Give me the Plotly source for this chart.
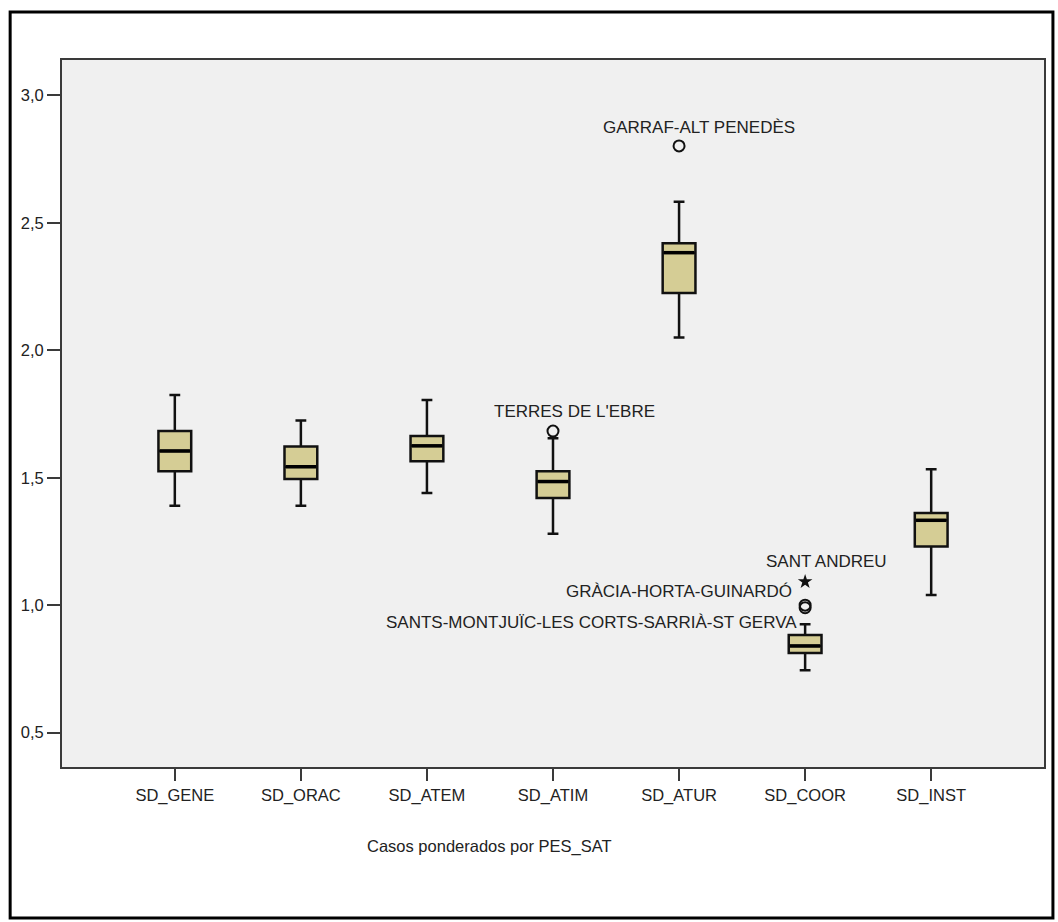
import plotly.graph_objects as go

# Box-plot statistics per variable
categories = ["SD_GENE", "SD_ORAC", "SD_ATEM", "SD_ATIM", "SD_ATUR", "SD_COOR", "SD_INST"]
lower_whisker = [1.39, 1.39, 1.44, 1.28, 2.05, 0.745, 1.04]
q1_values = [1.525, 1.495, 1.565, 1.42, 2.225, 0.812, 1.23]
median_values = [1.605, 1.543, 1.625, 1.485, 2.383, 0.840, 1.333]
q3_values = [1.683, 1.623, 1.664, 1.525, 2.42, 0.883, 1.362]
upper_whisker = [1.825, 1.725, 1.805, 1.655, 2.583, 0.925, 1.533]

# Outliers (open circles) and extreme values (stars)
outlier_x = ["SD_ATIM", "SD_ATUR", "SD_COOR", "SD_COOR"]
outlier_y = [1.683, 2.802, 0.99, 1.0]
extreme_x = ["SD_COOR"]
extreme_y = [1.092]

# Case labels: (category, value, text, anchor, x shift, y shift)
case_labels = [
    ("SD_ATUR", 2.802, "GARRAF-ALT PENEDÈS", "center", 20, 18),
    ("SD_ATIM", 1.683, "TERRES DE L'EBRE", "center", 21, 20),
    ("SD_COOR", 1.092, "SANT ANDREU", "center", 21, 20),
    ("SD_COOR", 1.092, "GRÀCIA-HORTA-GUINARDÓ", "right", -11, -10),
    ("SD_COOR", 0.99, "SANTS-MONTJUÏC-LES CORTS-SARRIÀ-ST GERVA", "right", -6, -15),
]

y_ticks = [0.5, 1.0, 1.5, 2.0, 2.5, 3.0]

FONT = "Liberation Sans, Arial, sans-serif"
TEXT = "#222222"
BOX_WIDTH = 0.26

fig = go.Figure()

fig.add_trace(go.Box(
    x=categories,
    q1=q1_values,
    median=median_values,
    q3=q3_values,
    lowerfence=lower_whisker,
    upperfence=upper_whisker,
    width=BOX_WIDTH,
    whiskerwidth=0.33,
    fillcolor="#D5CD95",
    line=dict(color="#111111", width=2.5),
    boxpoints=False,
    showlegend=False,
    hoverinfo="skip",
))

# Heavier median bars drawn over each box
for i, med in enumerate(median_values):
    fig.add_shape(
        type="line", xref="x", yref="y",
        x0=i - BOX_WIDTH / 2 + 0.01, x1=i + BOX_WIDTH / 2 - 0.01, y0=med, y1=med,
        line=dict(color="#000000", width=3.5), layer="above",
    )

fig.add_trace(go.Scatter(
    x=outlier_x, y=outlier_y, mode="markers",
    marker=dict(symbol="circle-open", size=11, color="#111111", line=dict(width=2, color="#111111")),
    showlegend=False, hoverinfo="skip",
))

fig.add_trace(go.Scatter(
    x=extreme_x, y=extreme_y, mode="markers",
    marker=dict(symbol="star", size=11, color="#111111"),
    showlegend=False, hoverinfo="skip",
))

for cat, val, txt, anchor, dx, dy in case_labels:
    fig.add_annotation(
        x=cat, y=val, xref="x", yref="y", text=txt, showarrow=False,
        xanchor=anchor, yanchor="middle", xshift=dx, yshift=dy,
        font=dict(family=FONT, size=17, color=TEXT),
    )

# Axis caption beneath the category labels
fig.add_annotation(
    x=0.435, y=-0.113, xref="paper", yref="paper",
    text="Casos ponderados por PES_SAT", showarrow=False,
    xanchor="center", yanchor="middle",
    font=dict(family=FONT, size=16.5, color=TEXT),
)

# Outer chart frame
fig.add_shape(
    type="rect", xref="paper", yref="paper",
    x0=-0.0528, x1=1.0091, y0=-0.2136, y1=1.0679,
    line=dict(color="black", width=3), fillcolor="rgba(0,0,0,0)", layer="below",
)

fig.update_layout(
    width=1058, height=922,
    margin=dict(l=62, r=12, t=60, b=155),
    paper_bgcolor="white",
    plot_bgcolor="#F0F0F0",
    separators=",.",
    font=dict(family=FONT, size=16, color=TEXT),
    boxmode="overlay",
)

fig.update_xaxes(
    type="category",
    categoryorder="array", categoryarray=categories,
    range=[-0.895, 6.895],
    showgrid=False, zeroline=False,
    showline=True, mirror=True, linecolor="#3a3a3a", linewidth=2,
    ticks="outside", ticklen=12, tickwidth=2, tickcolor="#3a3a3a",
    tickfont=dict(family=FONT, size=16.5, color=TEXT),
)

fig.update_yaxes(
    range=[0.365, 3.139],
    tickvals=y_ticks, tickformat=".1f",
    showgrid=False, zeroline=False,
    showline=True, mirror=True, linecolor="#3a3a3a", linewidth=2,
    ticks="outside", ticklen=13, tickwidth=2, tickcolor="#3a3a3a",
    tickfont=dict(family=FONT, size=16.5, color=TEXT),
)

fig.write_html("out.html")
